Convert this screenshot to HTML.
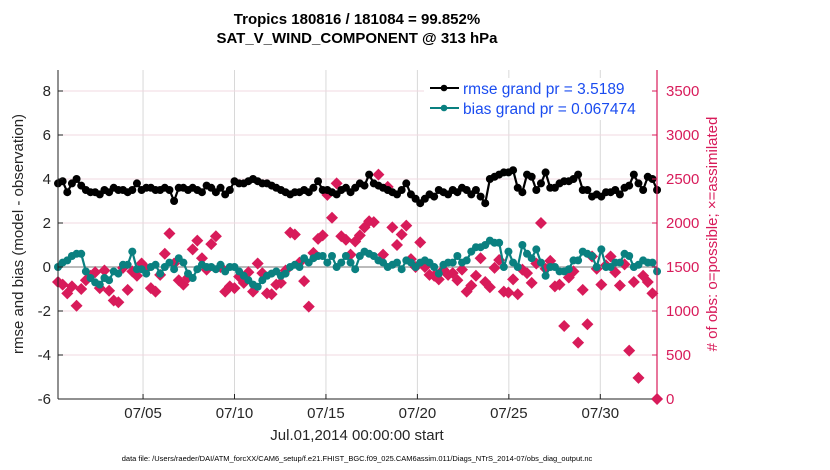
<!DOCTYPE html>
<html><head><meta charset="utf-8"><style>
html,body{margin:0;padding:0;background:#fff;width:830px;height:470px;overflow:hidden}
text{font-family:"Liberation Sans",Arial,sans-serif}
</style></head><body>
<svg id="chart" width="830" height="470" xmlns="http://www.w3.org/2000/svg">
<g id="grid"></g>
<g id="marks"></g>
<g id="axes"></g>
</svg>
<script>
const rmseValues=[3.8,3.9,3.4,3.8,4.0,3.7,3.5,3.4,3.4,3.3,
3.5,3.4,3.6,3.5,3.5,3.4,3.5,3.8,3.5,3.6,
3.6,3.5,3.5,3.6,3.5,3.0,3.6,3.6,3.5,3.6,
3.5,3.4,3.7,3.6,3.4,3.6,3.3,3.5,3.9,3.8,
3.8,3.9,4.0,3.9,3.8,3.8,3.7,3.6,3.5,3.4,
3.3,3.4,3.4,3.5,3.4,3.6,3.9,3.5,3.5,3.4,
3.3,3.5,3.6,3.4,3.6,3.8,3.7,4.2,3.8,3.7,
3.6,3.5,3.4,3.3,3.5,3.8,3.3,3.1,2.9,3.1,
3.3,3.2,3.5,3.4,3.3,3.5,3.4,3.6,3.5,3.3,
3.5,3.2,2.9,4.0,4.1,4.2,4.3,4.3,4.4,3.6,
3.4,4.2,4.1,3.5,3.8,4.3,3.6,3.6,3.8,3.9,
3.9,4.0,4.2,3.5,3.5,3.2,3.3,3.2,3.4,3.4,
3.5,3.3,3.6,3.7,4.2,3.8,3.5,4.1,4.0,3.5];
const biasValues=[0.0,0.2,0.3,0.5,0.6,0.6,-0.2,-0.5,-0.7,-0.8,
-0.5,-0.6,-0.2,-0.3,0.1,0.1,0.7,-0.1,-0.1,-0.3,
0.0,0.1,-0.3,0.0,0.2,-0.1,0.4,0.2,-0.3,-0.5,
-0.1,0.1,0.0,0.0,-0.1,0.1,-0.2,0.0,0.0,-0.2,
-0.4,-0.6,-0.8,-0.9,-0.6,-0.4,-0.3,-0.2,-0.4,-0.3,
0.0,0.1,0.0,0.4,0.2,0.4,0.5,0.5,0.2,0.5,
0.0,0.2,0.5,0.2,-0.1,0.5,0.7,0.6,0.5,0.3,
0.2,0.0,0.1,0.2,-0.1,0.3,0.2,0.0,0.2,0.3,
0.2,0.0,-0.3,0.1,0.2,0.2,0.5,0.2,0.3,0.7,
0.9,0.9,1.0,1.2,1.1,1.1,0.0,0.7,0.2,0.0,
1.0,0.6,0.4,0.8,0.2,-0.4,0.0,0.0,-0.2,-0.2,
-0.1,0.3,0.3,0.7,0.6,0.5,0.0,0.8,0.0,0.0,
0.2,0.2,0.6,0.5,0.0,0.1,0.3,0.2,0.2,-0.2];
const obsValues=[1330,1300,1200,1280,1060,1250,1350,1400,1440,1260,
1460,1230,1120,1100,1490,1240,1450,1400,1540,1480,
1260,1220,1410,1650,1880,1540,1350,1300,1380,1700,
1800,1600,1470,1760,1850,1500,1220,1280,1260,1390,
1320,1440,1220,1540,1430,1200,1190,1300,1320,1460,
1890,1870,1550,1340,1050,1660,1820,1860,2320,2060,
2450,1850,1810,1640,1790,1860,1950,2020,2010,2550,
1640,2410,1950,1750,1870,1970,1590,1500,1780,1500,
1410,1400,1360,1470,1410,1430,1350,1470,1220,1290,
1400,1600,1330,1270,1490,1580,1220,1210,1360,1190,
1470,1430,1320,1540,2000,1480,1570,1280,1300,830,
1380,1450,640,1240,850,1620,1480,1300,1520,1620,
1440,1290,1530,550,1330,240,1400,1330,1200,0];
const startDay=-0.65, stepDay=0.2539;
const xTickDays=[4,9,14,19,24,29];
const xTickLabels=["07/05","07/10","07/15","07/20","07/25","07/30"];
const leftTicks=[-6,-4,-2,0,2,4,6,8];
const rightTicks=[0,500,1000,1500,2000,2500,3000,3500];

const L=58,R=657,T=70,B=399;
const x=d=>L+(d-(-0.65))/(32.1-(-0.65))*(R-L);
const yL=v=>267-v*22;
const yR=v=>B-v*308/3500;
const NS="http://www.w3.org/2000/svg";
function mk(tag,attrs,parent,txt){const e=document.createElementNS(NS,tag);for(const k in attrs)e.setAttribute(k,attrs[k]);if(txt!==undefined)e.textContent=txt;parent.appendChild(e);return e;}
const svg=document.getElementById('chart'),grid=document.getElementById('grid'),marks=document.getElementById('marks'),axes=document.getElementById('axes');
const RED="#d81b5a",TEAL="#0a8080";

xTickDays.forEach((d,i)=>{const g=mk('line',{x1:x(d),x2:x(d),y1:T,y2:B,stroke:'#d8d8d8','stroke-width':1},grid);

});
leftTicks.forEach(v=>{const g=mk('line',{x1:L,x2:R,y1:yL(v),y2:yL(v),stroke:'#f0d8e0','stroke-width':1},grid);

});
const zl=mk('line',{x1:L,x2:R,y1:yL(0),y2:yL(0),stroke:'#bbbbbb','stroke-width':2},grid);



const obsG=mk('g',{},marks);


obsValues.forEach((v,i)=>{const cx=x(startDay+i*stepDay),cy=yR(v);
const p=mk('path',{d:`M${cx},${cy-6}L${cx+6},${cy}L${cx},${cy+6}L${cx-6},${cy}Z`,fill:RED},obsG);

});

function series(vals,color,name){
  const g=mk('g',{},marks);
  
  
  const pts=vals.map((v,i)=>x(startDay+i*stepDay).toFixed(1)+','+yL(v).toFixed(1)).join(' ');
  mk('polyline',{points:pts,fill:'none',stroke:color,'stroke-width':2.2},g);
  vals.forEach((v,i)=>{const c=mk('circle',{cx:x(startDay+i*stepDay),cy:yL(v),r:4,fill:color},g);
  
  });
}
series(biasValues,TEAL,'bias-series');
series(rmseValues,'#000','rmse-series');

mk('line',{x1:L,x2:L,y1:T,y2:B,stroke:'#222','stroke-width':1},axes);
mk('line',{x1:L,x2:R,y1:B,y2:B,stroke:'#222','stroke-width':1},axes);
mk('line',{x1:R,x2:R,y1:T,y2:B,stroke:RED,'stroke-width':1.2},axes);
xTickDays.forEach((d,i)=>{mk('line',{x1:x(d),x2:x(d),y1:B,y2:B-5,stroke:'#222'},axes);
const t=mk('text',{x:x(d),y:B+19,'text-anchor':'middle','font-size':15,fill:'#262626'},axes,xTickLabels[i]);

});
leftTicks.forEach(v=>{mk('line',{x1:L,x2:L+5,y1:yL(v),y2:yL(v),stroke:'#222'},axes);
const t=mk('text',{x:L-7,y:yL(v)+5,'text-anchor':'end','font-size':15,fill:'#262626'},axes,String(v));

});
rightTicks.forEach(v=>{mk('line',{x1:R,x2:R-5,y1:yR(v),y2:yR(v),stroke:RED},axes);
const t=mk('text',{x:R+9,y:yR(v)+5,'font-size':15,fill:RED},axes,String(v));

});
</script>
<svg style="position:absolute;left:0;top:0" width="830" height="470" xmlns="http://www.w3.org/2000/svg">
<text x="357" y="24" text-anchor="middle" font-size="15" font-weight="bold" font-family="Liberation Sans, sans-serif" fill="#000">Tropics 180816 / 181084 = 99.852%</text>
<text x="357" y="43" text-anchor="middle" font-size="15" font-weight="bold" font-family="Liberation Sans, sans-serif" fill="#000">SAT_V_WIND_COMPONENT @ 313 hPa</text>
<g>
<rect x="424" y="78" width="228" height="42" fill="#fff"/>
<line x1="430" y1="88" x2="459" y2="88" stroke="#000" stroke-width="2"/><circle cx="444" cy="88" r="3.3" fill="#000"/>
<text x="463" y="94" font-size="15.5" font-family="Liberation Sans, sans-serif" fill="#1a4cf0">rmse grand pr = 3.5189</text>
<line x1="430" y1="108" x2="459" y2="108" stroke="#0a8080" stroke-width="2"/><circle cx="444" cy="108" r="3.3" fill="#0a8080"/>
<text x="463" y="114" font-size="15.5" font-family="Liberation Sans, sans-serif" fill="#1a4cf0">bias grand pr = 0.067474</text>
</g>
<text transform="translate(23,234) rotate(-90)" text-anchor="middle" font-size="15" font-family="Liberation Sans, sans-serif" fill="#262626">rmse and bias (model - observation)</text>
<text transform="translate(717,234) rotate(-90)" text-anchor="middle" font-size="15" font-family="Liberation Sans, sans-serif" fill="#d81b5a"># of obs: o=possible; ×=assimilated</text>
<text x="357" y="440" text-anchor="middle" font-size="15" font-family="Liberation Sans, sans-serif" fill="#262626">Jul.01,2014 00:00:00 start</text>
<text x="357" y="461" text-anchor="middle" font-size="7.5" font-family="Liberation Sans, sans-serif" fill="#000">data file: /Users/raeder/DAI/ATM_forcXX/CAM6_setup/f.e21.FHIST_BGC.f09_025.CAM6assim.011/Diags_NTrS_2014-07/obs_diag_output.nc</text>
</svg>
</body></html>
